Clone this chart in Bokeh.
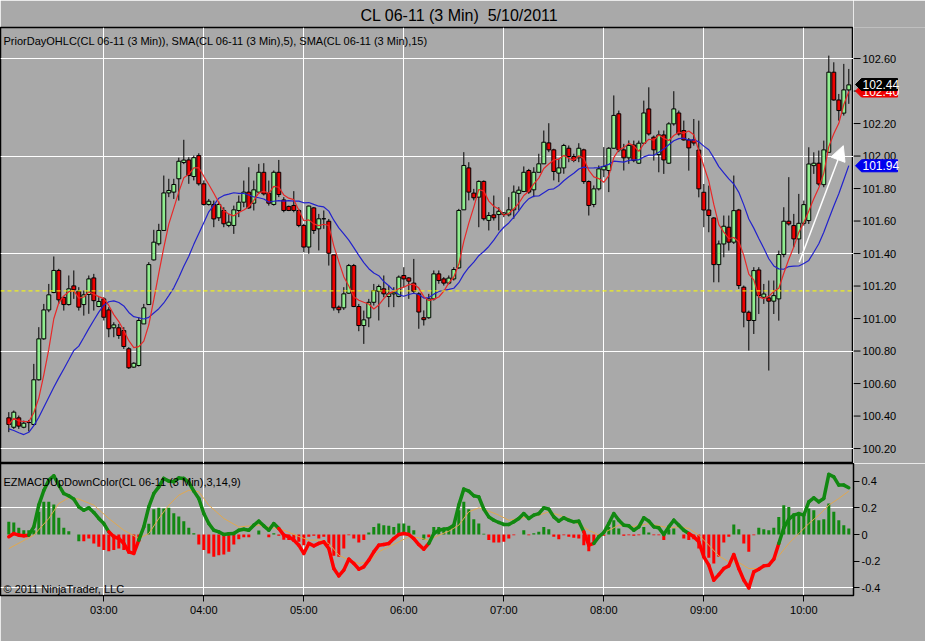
from bokeh.plotting import figure
from bokeh.models import (Range1d, FixedTicker, Span, Label, Arrow, NormalHead,
                          ColumnDataSource)
from bokeh.core.properties import value
from bokeh.layouts import column, row
from bokeh.embed import file_html
from bokeh.resources import INLINE

# ---------------- texts ----------------
title_text = "CL 06-11 (3 Min)\u00a0 5/10/2011"
price_label = "PriorDayOHLC(CL 06-11 (3 Min)), SMA(CL 06-11 (3 Min),5), SMA(CL 06-11 (3 Min),15)"
macd_label = "EZMACDUpDownColor(CL 06-11 (3 Min),3,14,9)"
copyright_text = "\u00a9 2011 NinjaTrader, LLC"

# ---------------- time axis (3-min bars, first bar 02:03) ----------------
time_ticks = [19, 39, 59, 79, 99, 119, 139, 159]
time_labels = ["03:00", "04:00", "05:00", "06:00", "07:00", "08:00", "09:00", "10:00"]

price_ticks = [100.2, 100.4, 100.6, 100.8, 101.0, 101.2, 101.4, 101.6, 101.8, 102.0, 102.2, 102.4, 102.6]
price_tick_labels = ["100.20", "100.40", "100.60", "100.80", "101.00", "101.20", "101.40",
                     "101.60", "101.80", "102.00", "102.20", "102.40", "102.60"]
price_grid = [100.2, 100.8, 101.4, 102.0, 102.6]
macd_ticks = [-0.4, -0.2, 0.0, 0.2, 0.4]
macd_tick_labels = ["-0.4", "-0.2", "0", "0.2", "0.4"]
macd_grid = [0.2, -0.4]

prior_close = 101.17
tag_values = [101.94, 102.40, 102.44]          # SMA(15), SMA(5), last price
tag_texts = ["101.94", "102.40", "102.44"]
tag_colors = ["#0000EE", "#EE0000", "#000000"]
arrow_from = (158.1, 101.346)
arrow_to = (166.9, 102.064)

# ---------------- OHLC ----------------
opens = [100.389,100.331,100.389,100.331,100.36,100.348,100.623,100.875,101.053,101.16,
 101.296,101.13,101.086,101.201,101.168,101.086,101.148,101.25,101.074,101.121,
 101.053,100.943,100.943,100.926,100.814,100.701,100.711,100.967,101.086,101.361,
 101.46,101.542,101.773,101.778,101.86,101.96,101.976,101.874,102.003,101.829,
 101.702,101.702,101.62,101.665,101.573,101.573,101.665,101.716,101.778,101.71,
 101.778,101.9,101.771,101.702,101.9,101.73,101.69,101.696,101.665,101.573,
 101.44,101.681,101.552,101.614,101.599,101.392,101.07,101.066,101.156,101.326,
 101.074,100.957,101.004,101.1,101.168,101.183,101.136,101.152,101.136,101.265,
 101.25,101.218,101.152,101.005,101.005,101.121,101.275,101.244,101.218,101.244,
 101.312,101.669,101.927,101.772,101.747,101.844,101.604,101.638,101.64,101.64,
 101.638,101.669,101.77,101.782,101.911,101.792,101.9,101.952,102.081,102.038,
 101.895,101.927,102.048,101.997,101.989,102.038,101.843,101.702,101.798,101.915,
 101.911,102.048,102.26,102.038,101.989,102.068,101.956,102.079,102.29,102.116,
 102.009,102.13,101.956,102.198,102.265,102.157,102.099,102.10,102.037,101.777,
 101.668,101.619,101.332,101.459,101.562,101.47,101.668,101.193,101.039,100.988,
 101.299,101.131,101.127,101.107,101.121,101.394,101.599,101.572,101.49,101.586,
 101.603,101.941,101.956,101.824,102.023,102.516,102.345,102.264,102.407]

closes = [100.348,100.424,100.338,100.356,100.36,100.623,100.875,101.053,101.146,101.296,
 101.115,101.086,101.183,101.177,101.07,101.146,101.244,101.11,101.105,101.008,
 100.937,100.961,100.896,100.828,100.697,100.725,100.988,101.066,101.332,101.47,
 101.542,101.773,101.788,101.825,101.968,101.975,101.88,101.99,101.829,101.702,
 101.722,101.613,101.702,101.583,101.593,101.669,101.716,101.778,101.681,101.792,
 101.9,101.767,101.71,101.9,101.763,101.665,101.665,101.665,101.573,101.44,
 101.692,101.542,101.614,101.614,101.402,101.066,101.054,101.152,101.326,101.074,
 100.957,100.992,101.1,101.172,101.197,101.152,101.152,101.162,101.255,101.244,
 101.23,101.168,101.04,100.993,101.121,101.275,101.234,101.218,101.249,101.302,
 101.665,101.942,101.778,101.743,101.844,101.614,101.634,101.62,101.66,101.65,
 101.669,101.778,101.79,101.9,101.778,101.9,101.952,102.085,102.038,101.905,
 101.927,102.065,101.997,101.973,102.048,101.843,101.696,101.798,101.921,101.935,
 102.048,102.25,102.038,101.989,102.065,101.972,102.079,102.265,102.136,102.038,
 102.13,101.976,102.198,102.29,102.136,102.099,102.05,102.08,101.798,101.668,
 101.634,101.332,101.459,101.568,101.47,101.664,101.203,101.039,100.988,101.295,
 101.141,101.151,101.107,101.141,101.394,101.599,101.582,101.49,101.586,101.701,
 101.951,101.956,101.828,102.038,102.516,102.345,102.28,102.407,102.438]

highs = [100.424,100.434,100.403,100.372,100.376,100.721,100.947,101.09,101.213,101.382,
 101.306,101.136,101.265,101.296,101.193,101.172,101.265,101.275,101.131,101.131,
 101.07,100.977,100.967,100.947,100.824,100.731,101.008,101.09,101.347,101.546,
 101.583,101.88,101.86,101.86,101.99,102.1,101.993,102.003,102.017,101.85,
 101.736,101.726,101.72,101.685,101.644,101.695,101.757,101.849,101.931,101.849,
 101.952,101.956,101.849,101.911,101.976,101.747,101.695,101.784,101.675,101.583,
 101.695,101.685,101.644,101.665,101.613,101.392,101.08,101.193,101.336,101.336,
 101.09,101.049,101.121,101.213,101.209,101.265,101.203,101.193,101.265,101.316,
 101.255,101.367,101.162,101.05,101.152,101.296,101.296,101.255,101.265,101.316,
 101.675,102.024,101.962,101.798,101.85,101.85,101.655,101.757,101.685,101.655,
 101.747,101.819,101.813,101.936,101.921,101.931,102.014,102.157,102.202,102.045,
 101.983,102.075,102.065,102.014,102.079,102.045,101.85,101.819,101.942,102.055,
 102.055,102.373,102.28,102.075,102.096,102.095,102.095,102.341,102.423,102.126,
 102.157,102.157,102.208,102.399,102.28,102.218,102.111,102.228,102.218,101.828,
 101.818,101.623,101.48,101.634,101.634,101.88,101.675,101.203,101.049,101.316,
 101.316,101.213,101.234,101.234,101.418,101.685,101.87,101.644,101.767,101.726,
 102.054,102.023,102.034,102.095,102.618,102.577,102.382,102.567,102.536]

lows = [100.301,100.321,100.321,100.325,100.305,100.342,100.618,100.869,101.039,101.156,
 101.09,101.049,101.08,101.121,101.049,101.018,101.029,101.049,101.07,100.988,
 100.885,100.885,100.875,100.813,100.69,100.696,100.705,100.967,101.086,101.357,
 101.449,101.542,101.747,101.736,101.726,101.95,101.829,101.85,101.818,101.695,
 101.695,101.562,101.6,101.562,101.562,101.521,101.624,101.685,101.675,101.665,
 101.767,101.757,101.695,101.695,101.747,101.654,101.661,101.654,101.562,101.408,
 101.398,101.521,101.419,101.552,101.326,101.049,101.033,101.053,101.152,101.07,
 100.922,100.844,100.947,101.08,100.988,101.131,101.07,101.07,101.131,101.193,
 101.121,101.152,100.937,100.957,100.998,101.111,101.214,101.203,101.21,101.234,
 101.306,101.669,101.727,101.727,101.562,101.603,101.542,101.603,101.542,101.624,
 101.628,101.614,101.665,101.778,101.767,101.747,101.9,101.952,102.024,101.85,
 101.839,101.891,101.962,101.962,101.962,101.829,101.634,101.685,101.788,101.87,
 101.778,102.045,102.024,101.911,101.952,101.962,101.951,102.075,102.126,101.972,
 101.9,101.89,101.951,102.187,102.126,102.095,101.91,102.064,101.746,101.562,
 101.531,101.223,101.223,101.377,101.418,101.459,101.182,100.946,100.803,100.905,
 101.028,101.09,100.68,101.028,100.987,101.377,101.572,101.439,101.398,101.572,
 101.582,101.89,101.818,101.808,102.023,102.341,102.218,102.249,102.321]

# SMA(15) values at the first bars (window reaches into the previous session)
sma15_start = [100.321,100.311,100.297,100.286,100.3,100.341,100.393,100.454,100.516,100.577,
               100.635,100.69,100.746,100.803]

# ---------------- MACD panel ----------------
macd = [-0.017,0.007,-0.005,-0.01,-0.005,0.057,0.22,0.33,0.407,0.44,
 0.37,0.307,0.29,0.265,0.207,0.182,0.2,0.165,0.12,0.082,
 0.02,-0.017,-0.03,-0.067,-0.13,-0.142,-0.042,0.057,0.207,0.307,
 0.357,0.42,0.4,0.395,0.424,0.42,0.39,0.325,0.27,0.157,
 0.082,0.032,0.02,0.0,0.005,0.007,0.032,0.04,0.032,0.07,
 0.1,0.065,0.032,0.082,0.045,-0.005,-0.017,-0.042,-0.08,-0.142,
 -0.067,-0.085,-0.067,-0.055,-0.105,-0.255,-0.31,-0.267,-0.185,-0.217,
 -0.26,-0.242,-0.192,-0.13,-0.08,-0.075,-0.067,-0.03,0.0,0.007,
 0.0,-0.03,-0.075,-0.11,-0.067,0.007,0.032,0.04,0.045,0.07,
 0.22,0.34,0.325,0.29,0.282,0.19,0.132,0.107,0.09,0.075,
 0.075,0.095,0.12,0.157,0.12,0.145,0.157,0.2,0.19,0.132,
 0.1,0.125,0.107,0.095,0.1,0.02,-0.08,-0.067,-0.017,0.015,
 0.082,0.157,0.107,0.07,0.065,0.032,0.057,0.125,0.1,0.057,
 0.05,0.0,0.057,0.107,0.07,0.032,0.007,-0.017,-0.055,-0.167,
 -0.23,-0.342,-0.3,-0.255,-0.235,-0.15,-0.255,-0.342,-0.4,-0.28,
 -0.26,-0.235,-0.23,-0.185,-0.067,0.05,0.115,0.145,0.157,0.145,
 0.245,0.275,0.245,0.27,0.45,0.432,0.37,0.37,0.35]
macd_color_runs = [("r", 5), ("g", 16), ("r", 6), ("g", 28), ("r", 30), ("g", 31),
                   ("r", 2), ("g", 19), ("r", 18), ("g", 14)]

hist = [0.095,0.09,0.05,0.032,0.032,0.032,0.17,0.245,0.245,0.225,
 0.125,0.05,0.025,0.0,-0.05,-0.05,-0.03,-0.067,-0.092,-0.117,
 -0.125,-0.117,-0.105,-0.117,-0.142,-0.13,-0.055,0.0,0.08,0.19,
 0.2,0.195,0.2,0.16,0.135,0.1,0.05,0.01,-0.075,-0.117,
 -0.142,-0.167,-0.155,-0.15,-0.13,-0.075,-0.035,-0.02,-0.02,0.0,
 0.03,0.0,-0.02,0.01,-0.01,-0.04,-0.042,-0.055,-0.055,-0.08,
 -0.017,-0.01,-0.03,-0.017,-0.08,-0.16,-0.167,-0.105,-0.005,-0.03,
 -0.06,-0.042,0.015,0.057,0.082,0.07,0.065,0.057,0.082,0.082,
 0.065,0.032,0.0,-0.04,-0.02,0.057,0.057,0.05,0.05,0.07,
 0.182,0.245,0.19,0.115,0.082,0.005,-0.042,-0.06,-0.06,-0.055,
 -0.03,-0.005,0.0,0.032,-0.005,0.01,0.02,0.057,0.04,-0.017,
 -0.035,-0.005,-0.017,-0.025,-0.03,-0.08,-0.125,-0.067,-0.017,-0.01,
 0.057,0.107,0.045,-0.01,-0.005,-0.01,-0.005,0.057,0.015,-0.005,
 -0.005,-0.042,0.04,0.045,0.0,-0.03,-0.042,-0.035,-0.105,-0.16,
 -0.175,-0.217,-0.167,-0.06,-0.017,0.075,0.04,-0.067,-0.13,-0.005,
 0.05,0.04,0.032,0.05,0.132,0.22,0.207,0.157,0.165,0.145,
 0.195,0.182,0.107,0.115,0.232,0.17,0.107,0.07,0.045]
hist_color_runs = [("g", 15), ("r", 12), ("g", 11), ("r", 11), ("g", 3), ("r", 1), ("g", 1),
                   ("r", 18), ("g", 12), ("r", 1), ("g", 11), ("r", 7), ("g", 1), ("r", 1),
                   ("g", 4), ("r", 11), ("g", 3), ("r", 4), ("g", 2), ("r", 3), ("g", 3),
                   ("r", 10), ("g", 2), ("r", 3), ("g", 19)]

sig_bars = [0,5,8,10,12,14,17,20,23,26,28,30,32,34,36,38,40,43,46,50,
            55,58,60,62,64,66,68,70,72,74,76,78,80,82,84,86,88,90,92,94,
            96,98,100,102,104,106,108,110,112,116,118,120,122,124,126,128,130,132,134,136,
            138,140,142,144,146,148,150,152,154,156,158,160,162,164,166,168]
sig_vals = [-0.105,-0.005,0.12,0.232,0.275,0.265,0.22,0.12,0.032,-0.03,
            0.007,0.12,0.22,0.295,0.332,0.32,0.22,0.12,0.057,0.07,
            0.032,-0.015,-0.042,-0.042,-0.067,-0.155,-0.192,-0.217,-0.205,-0.13,
            -0.092,-0.055,-0.017,-0.025,-0.042,-0.005,0.025,0.07,0.17,0.2,
            0.175,0.145,0.107,0.12,0.132,0.145,0.17,0.145,0.12,0.032,
            -0.005,0.032,0.07,0.057,0.065,0.082,0.065,0.05,0.057,0.045,
            -0.005,-0.08,-0.16,-0.205,-0.21,-0.255,-0.255,-0.23,-0.16,-0.067,
            0.007,0.082,0.145,0.22,0.27,0.325]

# ---------------- styles ----------------
BG = "#A9A9A9"
UP = "#90EE90"
DN = "#EE0000"
GREEN = "#118811"
RED = "#FF0000"
FONT = "Liberation Sans"
PX_PER_PRICE = 162.5   # vertical scale of the price panel (px per 1.00)

n = len(closes)
bars = list(range(n))

def expand(runs):
    out = []
    for c, k in runs:
        out.extend([c] * k)
    return out

macd_cols = [GREEN if c == "g" else RED for c in expand(macd_color_runs)]
hist_cols = [GREEN if c == "g" else RED for c in expand(hist_color_runs)]

sma5 = []
sma15 = []
for i in range(n):
    w5 = closes[max(0, i - 4):i + 1]
    sma5.append(sum(w5) / len(w5))
    if i < len(sma15_start):
        sma15.append(sma15_start[i])
    else:
        w15 = closes[i - 14:i + 1]
        sma15.append(sum(w15) / 15.0)

xr = Range1d(-1.66, 168.94)
yr = Range1d(100.108, 102.791)

# ---------------- price panel ----------------
p = figure(frame_width=853, frame_height=436, x_range=xr, y_range=yr,
           output_backend="svg", toolbar_location=None,
           x_axis_location=None, y_axis_location=None,
           min_border_left=0, min_border_right=0, min_border_top=27, min_border_bottom=0,
           background_fill_color=BG, border_fill_color=BG,
           outline_line_color="black", outline_line_width=1.5)
p.xgrid.ticker = FixedTicker(ticks=time_ticks)
p.ygrid.ticker = FixedTicker(ticks=price_grid)
for g in (p.xgrid, p.ygrid):
    g.grid_line_color = "white"
    g.grid_line_width = 1
    g.grid_line_alpha = 1.0

p.title.text = title_text
p.title.align = "left"
p.title.offset = 360
p.title.standoff = 8
p.title.text_font = FONT
p.title.text_font_size = "16px"
p.title.text_font_style = "normal"
p.title.text_color = "black"

tops = [max(o, c) for o, c in zip(opens, closes)]
bots = [min(o, c) for o, c in zip(opens, closes)]
cols = [UP if c >= o else DN for o, c in zip(opens, closes)]
src = ColumnDataSource(dict(x=bars, h=highs, l=lows, top=tops, bottom=bots, color=cols))

p.add_layout(Span(location=prior_close, dimension="width", line_color="#FFFF00",
                  line_dash="4 3", line_width=1))
p.segment(x0="x", y0="l", x1="x", y1="h", line_color="black", line_width=1, source=src)
p.vbar(x="x", width=0.78, top="top", bottom="bottom", fill_color="color",
       line_color="black", line_width=1, source=src)
p.line(bars, sma15, line_color="#2222CC", line_width=1.2)
p.line(bars, sma5, line_color="#E82828", line_width=1.2)

p.add_layout(Arrow(end=NormalHead(size=15, fill_color="white", line_color="white"),
                   x_start=arrow_from[0], y_start=arrow_from[1],
                   x_end=arrow_to[0], y_end=arrow_to[1],
                   line_color="white", line_width=1.5))

p.add_layout(Label(x=-1.06, y=102.711, text=price_label, text_align="left",
                   text_baseline="middle", text_font=FONT, text_font_size="11px",
                   text_color="black"))

# ---------------- price scale strip (ticks, labels, value tags) ----------------
s = figure(frame_width=72, frame_height=436, x_range=Range1d(0, 72), y_range=yr,
           output_backend="svg", toolbar_location=None,
           x_axis_location=None, y_axis_location=None,
           min_border_left=0, min_border_right=0, min_border_top=27, min_border_bottom=0,
           background_fill_color=BG, border_fill_color=BG, outline_line_color=None)
s.grid.visible = False
s.segment(x0=[0] * len(price_ticks), x1=[7] * len(price_ticks), y0=price_ticks, y1=price_ticks,
          line_color="black", line_width=1)
s.text(x=[9] * len(price_ticks), y=price_ticks, text=price_tick_labels,
       text_baseline="middle", text_align="left", text_font=value(FONT),
       text_font_size="11px", text_color="black")

half = 6.0 / PX_PER_PRICE
tag_xs = [[2, 8, 44, 44, 8] for _ in tag_values]
tag_ys = [[v, v + half, v + half, v - half, v - half] for v in tag_values]
for i in range(len(tag_values)):
    s.patch(tag_xs[i], tag_ys[i], fill_color=tag_colors[i], line_color=tag_colors[i])
    s.text(x=[9], y=[tag_values[i]], text=[tag_texts[i]], text_baseline="middle",
           text_align="left", text_font=value(FONT), text_font_size="12px",
           text_color="white")

# ---------------- MACD panel ----------------
m = figure(frame_width=853, frame_height=132, x_range=xr, y_range=Range1d(-0.457, 0.532),
           output_backend="svg", toolbar_location=None, y_axis_location="right",
           min_border_left=0, min_border_right=72, min_border_top=0, min_border_bottom=46,
           background_fill_color=BG, border_fill_color=BG,
           outline_line_color="black", outline_line_width=1.5)
m.xgrid.ticker = FixedTicker(ticks=time_ticks)
m.ygrid.ticker = FixedTicker(ticks=macd_grid)
for g in (m.xgrid, m.ygrid):
    g.grid_line_color = "white"
    g.grid_line_width = 1
    g.grid_line_alpha = 1.0

xa = m.xaxis[0]
xa.ticker = FixedTicker(ticks=time_ticks)
xa.major_label_overrides = {t: lab for t, lab in zip(time_ticks, time_labels)}
ma = m.yaxis[0]
ma.ticker = FixedTicker(ticks=macd_ticks)
ma.major_label_overrides = {t: lab for t, lab in zip(macd_ticks, macd_tick_labels)}
for ax in (xa, ma):
    ax.axis_line_color = "black"
    ax.major_tick_line_color = "black"
    ax.major_tick_out = 6
    ax.major_tick_in = 0
    ax.minor_tick_out = 0
    ax.minor_tick_in = 0
    ax.major_label_standoff = 2
    ax.major_label_text_font = FONT
    ax.major_label_text_font_size = "11px"
    ax.major_label_text_color = "black"

m.vbar(x=bars, top=hist, bottom=0, width=0.6, fill_color=hist_cols, line_color=None)
m.line(sig_bars, sig_vals, line_color="#E0A850", line_width=1)
seg = ColumnDataSource(dict(x0=bars[:-1], x1=bars[1:], y0=macd[:-1], y1=macd[1:],
                            color=macd_cols[1:]))
m.segment(x0="x0", y0="y0", x1="x1", y1="y1", line_color="color", line_width=3.5,
          line_cap="round", source=seg)

m.add_layout(Label(x=-1.06, y=0.397, text=macd_label, text_align="left",
                   text_baseline="middle", text_font=FONT, text_font_size="11px",
                   text_color="black"))
m.add_layout(Label(x=-1.06, y=-0.412, text=copyright_text, text_align="left",
                   text_baseline="middle", text_font=FONT, text_font_size="11px",
                   text_color="black"))

layout = column(row(p, s, spacing=0), m, spacing=0)
open("out.html", "w").write(file_html(layout, INLINE))
